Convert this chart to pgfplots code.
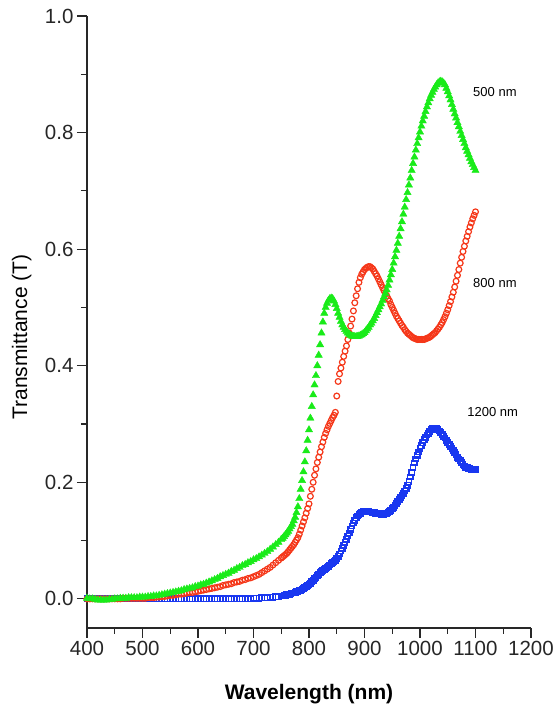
\documentclass[border=0pt]{standalone}
\usepackage{fontspec}
\setmainfont{Liberation Sans}
\usepackage{pgfplots}
\usepackage{pgfplotstable}
\pgfplotsset{compat=1.18}

\definecolor{grn}{RGB}{25,235,25}
\definecolor{rd}{RGB}{245,55,25}
\definecolor{blu}{RGB}{25,55,240}
\definecolor{axisgray}{RGB}{40,40,40}

% film thickness 500 nm
\pgfplotstableread{
lambda T
400 0.001
405 0.000
410 0.000
415 -0.001
420 -0.002
425 -0.002
430 -0.002
435 -0.002
440 -0.001
445 -0.001
450 0.000
455 0.000
460 0.001
465 0.001
470 0.001
475 0.002
480 0.002
485 0.002
490 0.002
495 0.003
500 0.003
505 0.003
510 0.004
515 0.004
520 0.005
525 0.005
530 0.006
535 0.007
540 0.008
545 0.009
550 0.010
555 0.011
560 0.012
565 0.013
570 0.014
575 0.016
580 0.017
585 0.018
590 0.019
595 0.021
600 0.022
605 0.024
610 0.025
615 0.027
620 0.029
625 0.031
630 0.033
635 0.035
640 0.038
645 0.040
650 0.042
655 0.044
660 0.047
665 0.049
670 0.052
675 0.054
680 0.057
685 0.059
690 0.062
695 0.064
700 0.067
705 0.069
710 0.072
715 0.075
720 0.078
725 0.081
730 0.085
735 0.089
740 0.093
745 0.097
750 0.102
752.5 0.104
755 0.107
757.5 0.110
760 0.113
762.5 0.116
765 0.120
767.5 0.124
770 0.128
772.5 0.134
775 0.140
777.5 0.148
780 0.158
782.5 0.172
785 0.188
787.5 0.203
790 0.218
792.5 0.235
795 0.254
797.5 0.272
800 0.290
802.5 0.310
805 0.330
807.5 0.350
810 0.367
812.5 0.383
815 0.400
817.5 0.418
820 0.436
822.5 0.456
825 0.475
827.5 0.490
830 0.500
832.5 0.507
835 0.512
837.5 0.515
840 0.516
842.5 0.515
845 0.511
847.5 0.505
850 0.498
852.5 0.490
855 0.483
857.5 0.476
860 0.470
862.5 0.466
865 0.462
867.5 0.459
870 0.456
872.5 0.454
875 0.452
877.5 0.451
880 0.450
882.5 0.450
885 0.450
887.5 0.450
890 0.451
892.5 0.452
895 0.453
897.5 0.455
900 0.457
902.5 0.460
905 0.463
907.5 0.466
910 0.470
912.5 0.473
915 0.477
917.5 0.481
920 0.486
922.5 0.491
925 0.496
927.5 0.501
930 0.506
932.5 0.512
935 0.518
937.5 0.524
940 0.530
942.5 0.538
945 0.547
947.5 0.556
950 0.565
952.5 0.576
955 0.587
957.5 0.598
960 0.610
962.5 0.622
965 0.635
967.5 0.647
970 0.660
972.5 0.672
975 0.685
977.5 0.697
980 0.710
982.5 0.722
985 0.735
987.5 0.747
990 0.758
992.5 0.770
995 0.781
997.5 0.791
1000 0.801
1002.5 0.811
1005 0.820
1007.5 0.828
1010 0.836
1012.5 0.844
1015 0.851
1017.5 0.858
1020 0.864
1022.5 0.869
1025 0.874
1027.5 0.878
1030 0.882
1032.5 0.885
1035 0.887
1037.5 0.888
1040 0.887
1042.5 0.885
1045 0.882
1047.5 0.876
1050 0.870
1052.5 0.863
1055 0.856
1057.5 0.848
1060 0.840
1062.5 0.832
1065 0.825
1067.5 0.817
1070 0.810
1072.5 0.802
1075 0.795
1077.5 0.788
1080 0.781
1082.5 0.774
1085 0.768
1087.5 0.762
1090 0.756
1092.5 0.750
1095 0.745
1097.5 0.740
1100 0.735
}\tfivehundred

% film thickness 800 nm
\pgfplotstableread{
lambda T
400 0.000
405 0.000
410 0.000
415 0.000
420 0.000
425 0.000
430 0.000
435 0.000
440 0.000
445 0.000
450 0.000
455 0.000
460 0.000
465 0.001
470 0.001
475 0.001
480 0.001
485 0.001
490 0.001
495 0.001
500 0.001
505 0.001
510 0.002
515 0.002
520 0.002
525 0.003
530 0.003
535 0.004
540 0.004
545 0.005
550 0.006
555 0.006
560 0.007
565 0.008
570 0.008
575 0.009
580 0.010
585 0.011
590 0.011
595 0.012
600 0.013
605 0.014
610 0.015
615 0.016
620 0.017
625 0.018
630 0.019
635 0.020
640 0.021
645 0.023
650 0.024
655 0.025
660 0.026
665 0.028
670 0.029
675 0.030
680 0.032
685 0.033
690 0.035
695 0.036
700 0.038
705 0.040
710 0.042
715 0.045
720 0.048
725 0.051
730 0.054
735 0.058
740 0.062
745 0.066
750 0.070
752.5 0.072
755 0.074
757.5 0.076
760 0.078
762.5 0.081
765 0.084
767.5 0.087
770 0.090
772.5 0.093
775 0.097
777.5 0.101
780 0.105
782.5 0.111
785 0.118
787.5 0.125
790 0.132
792.5 0.139
795 0.147
797.5 0.155
800 0.163
802.5 0.176
805 0.188
807.5 0.200
810 0.212
812.5 0.223
815 0.234
817.5 0.243
820 0.252
822.5 0.261
825 0.269
827.5 0.277
830 0.284
832.5 0.290
835 0.296
837.5 0.301
840 0.306
842.5 0.311
845 0.315
847.5 0.320
850 0.348
852.5 0.373
855 0.386
857.5 0.396
860 0.406
862.5 0.416
865 0.425
867.5 0.434
870 0.445
872.5 0.456
875 0.468
877.5 0.480
880 0.494
882.5 0.508
885 0.520
887.5 0.532
890 0.543
892.5 0.551
895 0.557
897.5 0.561
900 0.565
902.5 0.567
905 0.569
907.5 0.570
910 0.570
912.5 0.568
915 0.566
917.5 0.562
920 0.558
922.5 0.554
925 0.549
927.5 0.544
930 0.539
932.5 0.534
935 0.529
937.5 0.524
940 0.520
942.5 0.515
945 0.511
947.5 0.505
950 0.500
952.5 0.495
955 0.490
957.5 0.485
960 0.481
962.5 0.477
965 0.473
967.5 0.469
970 0.466
972.5 0.462
975 0.459
977.5 0.456
980 0.454
982.5 0.452
985 0.450
987.5 0.448
990 0.447
992.5 0.446
995 0.445
997.5 0.445
1000 0.445
1002.5 0.445
1005 0.445
1007.5 0.445
1010 0.446
1012.5 0.447
1015 0.448
1017.5 0.449
1020 0.451
1022.5 0.453
1025 0.455
1027.5 0.457
1030 0.460
1032.5 0.463
1035 0.466
1037.5 0.470
1040 0.474
1042.5 0.479
1045 0.484
1047.5 0.490
1050 0.496
1052.5 0.503
1055 0.510
1057.5 0.518
1060 0.526
1062.5 0.535
1065 0.545
1067.5 0.555
1070 0.565
1072.5 0.576
1075 0.586
1077.5 0.596
1080 0.605
1082.5 0.614
1085 0.622
1087.5 0.630
1090 0.638
1092.5 0.645
1095 0.652
1097.5 0.658
1100 0.664
}\teighthundred

% film thickness 1200 nm
\pgfplotstableread{
lambda T
400 0.000
405 0.000
410 0.000
415 0.000
420 0.000
425 0.000
430 0.000
435 0.000
440 0.000
445 0.000
450 0.000
455 0.000
460 0.000
465 0.000
470 0.000
475 0.000
480 0.000
485 0.000
490 0.000
495 0.000
500 0.000
505 0.000
510 0.000
515 0.000
520 0.000
525 0.000
530 0.000
535 0.000
540 0.000
545 0.000
550 0.000
555 0.000
560 0.000
565 0.000
570 0.000
575 0.000
580 0.000
585 0.000
590 0.000
595 0.000
600 0.000
605 0.000
610 0.000
615 0.000
620 0.000
625 0.000
630 0.000
635 0.000
640 0.000
645 0.000
650 0.000
655 0.000
660 0.000
665 0.000
670 0.000
675 0.000
680 0.000
685 0.000
690 0.000
695 0.000
700 0.001
705 0.001
710 0.001
715 0.002
720 0.002
725 0.002
730 0.003
735 0.003
740 0.004
745 0.004
750 0.005
752.5 0.005
755 0.006
757.5 0.006
760 0.007
762.5 0.007
765 0.008
767.5 0.009
770 0.010
772.5 0.010
775 0.011
777.5 0.012
780 0.013
782.5 0.014
785 0.015
787.5 0.016
790 0.018
792.5 0.019
795 0.021
797.5 0.023
800 0.025
802.5 0.027
805 0.030
807.5 0.032
810 0.035
812.5 0.037
815 0.040
817.5 0.042
820 0.045
822.5 0.047
825 0.049
827.5 0.051
830 0.052
832.5 0.054
835 0.056
837.5 0.058
840 0.060
842.5 0.062
845 0.064
847.5 0.066
850 0.069
852.5 0.073
855 0.077
857.5 0.082
860 0.087
862.5 0.092
865 0.097
867.5 0.102
870 0.108
872.5 0.113
875 0.119
877.5 0.125
880 0.130
882.5 0.135
885 0.139
887.5 0.142
890 0.145
892.5 0.147
895 0.149
897.5 0.150
900 0.150
902.5 0.150
905 0.150
907.5 0.150
910 0.149
912.5 0.149
915 0.148
917.5 0.148
920 0.147
922.5 0.147
925 0.146
927.5 0.146
930 0.145
932.5 0.145
935 0.145
937.5 0.146
940 0.147
942.5 0.148
945 0.150
947.5 0.152
950 0.155
952.5 0.157
955 0.160
957.5 0.163
960 0.167
962.5 0.170
965 0.174
967.5 0.177
970 0.181
972.5 0.185
975 0.190
977.5 0.195
980 0.201
982.5 0.209
985 0.217
987.5 0.225
990 0.233
992.5 0.240
995 0.246
997.5 0.252
1000 0.258
1002.5 0.263
1005 0.268
1007.5 0.273
1010 0.277
1012.5 0.281
1015 0.284
1017.5 0.287
1020 0.290
1022.5 0.292
1025 0.293
1027.5 0.293
1030 0.292
1032.5 0.290
1035 0.288
1037.5 0.285
1040 0.282
1042.5 0.279
1045 0.276
1047.5 0.272
1050 0.268
1052.5 0.265
1055 0.262
1057.5 0.258
1060 0.255
1062.5 0.251
1065 0.247
1067.5 0.243
1070 0.240
1072.5 0.237
1075 0.234
1077.5 0.231
1080 0.228
1082.5 0.226
1085 0.225
1087.5 0.224
1090 0.223
1092.5 0.222
1095 0.222
1097.5 0.222
1100 0.222
}\ttwelvehundred

\begin{document}
\begin{tikzpicture}
\path[use as bounding box] (0,0) rectangle (555pt,708pt);
\begin{axis}[
  at={(87pt,80pt)}, anchor=south west,
  scale only axis, width=444pt, height=612pt,
  xmin=400, xmax=1200, ymin=-0.05, ymax=1.0,
  axis x line*=bottom, axis y line*=left,
  axis line style={axisgray, line width=1.3pt, -},
  xtick={400,500,...,1200}, ytick={0,0.2,...,1.0},
  minor x tick num=1, minor y tick num=1,
  tick align=outside,
  major tick length=10pt, minor tick length=6pt,
  every tick/.style={axisgray, line width=1.2pt},
  tick label style={font=\fontsize{20.5}{24}\selectfont, text=black!85},
  /pgf/number format/assume math mode=true,
  xticklabel style={/pgf/number format/1000 sep={}},
  yticklabel style={/pgf/number format/.cd, fixed, fixed zerofill, precision=1},
  xlabel={\bfseries Wavelength (nm)},
  ylabel={Transmittance (T)},
  every axis x label/.style={at={(axis description cs:0.5,-0.1176)}, anchor=base,
    font=\fontsize{21}{25}\selectfont},
  every axis y label/.style={at={(axis description cs:-0.135,0.335)}, rotate=90,
    anchor=base west, font=\fontsize{21}{25}\selectfont},
  clip=false,
]
\addplot[only marks, mark=square, mark size=2.7pt, blu, line width=1.4pt]
  table[x=lambda, y=T] {\ttwelvehundred};
\addplot[only marks, mark=o, mark size=2.9pt, rd, line width=1.2pt]
  table[x=lambda, y=T] {\teighthundred};
\addplot[only marks, mark=triangle*, mark size=4.2pt, grn, fill=grn]
  table[x=lambda, y=T] {\tfivehundred};

\node[font=\fontsize{13}{15}\selectfont] at (axis cs:1135,0.870) {500 nm};
\node[font=\fontsize{13}{15}\selectfont] at (axis cs:1135,0.542) {800 nm};
\node[font=\fontsize{13}{15}\selectfont] at (axis cs:1131,0.321) {1200 nm};
\end{axis}
\end{tikzpicture}
\end{document}
